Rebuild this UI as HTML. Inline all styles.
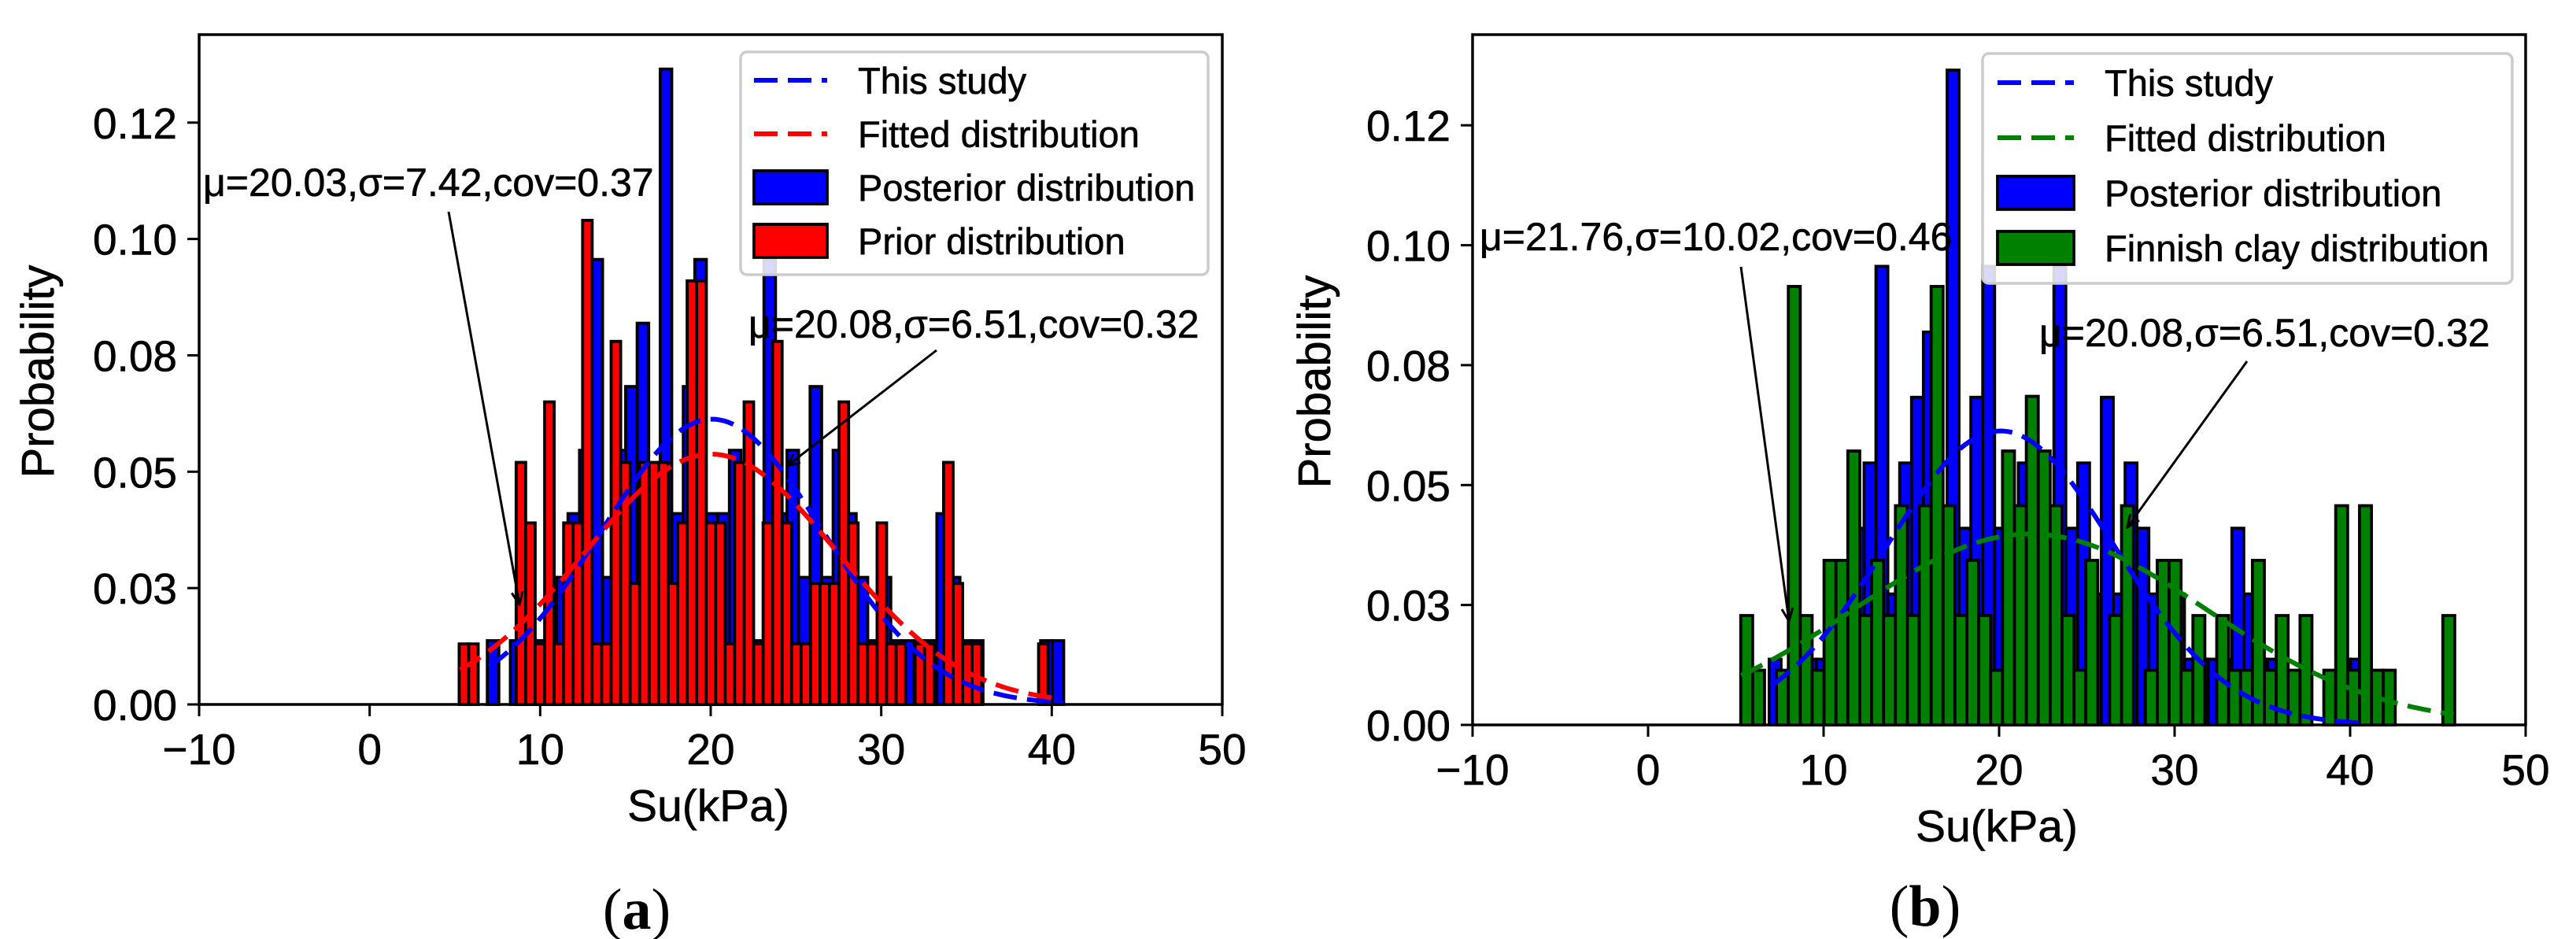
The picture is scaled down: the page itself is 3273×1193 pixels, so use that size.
<!DOCTYPE html>
<html><head><meta charset="utf-8">
<style>
html,body{margin:0;padding:0;background:#fff;}
svg{display:block;font-family:"Liberation Sans",Arial,sans-serif;}
svg text{stroke:#000;stroke-width:0.6px;}
</style></head>
<body>
<svg id="fig" width="3273" height="1193" viewBox="0 0 3273 1193" xmlns="http://www.w3.org/2000/svg">
<defs>
<marker id="ah" viewBox="0 0 20 20" refX="18" refY="10" markerWidth="20" markerHeight="20" markerUnits="userSpaceOnUse" orient="auto">
<path d="M2,3 L18,10 L2,17" fill="none" stroke="#000" stroke-width="3"/>
</marker>
</defs>
<g id="panelA"></g>
<g id="panelB"></g>
<text x="809" y="1180" text-anchor="middle" font-family="Liberation Serif,serif" font-size="74" style="stroke:none">(<tspan font-weight="bold">a</tspan>)</text>
<text x="2446" y="1176" text-anchor="middle" font-family="Liberation Serif,serif" font-size="74" style="stroke:none">(<tspan font-weight="bold">b</tspan>)</text>
</svg>
<script>
// ---- data ----
const xTicks = [-10, 0, 10, 20, 30, 40, 50];
const xTickLabels = ["\u221210", "0", "10", "20", "30", "40", "50"];
const yTicks = [0, 0.025, 0.05, 0.075, 0.1, 0.125];
const yTickLabels = ["0.00", "0.03", "0.05", "0.08", "0.10", "0.12"];

// posterior histogram (50 bins, start 6.9, width 0.676)
const posteriorStart = 6.9;
const posteriorWidth = 0.676;
const posteriorValues = [0.0137,0,0.0137,0.0137,0.0137,0.0273,0.0273,0.041,0.0546,0.0956,
 0.0273,0.0546,0.0683,0.0819,0.041,0.1365,0.041,0.0683,0.0956,0.041,
 0.041,0.0546,0.0273,0.0137,0.0956,0.041,0.0546,0.0273,0.0683,0.0273,
 0.0546,0.041,0.0273,0.0137,0.0273,0.0137,0.0137,0.0137,0.0137,0.041,
 0.0273,0.0137,0.0137,0,0,0,0,0,0.0137,0.0137];

// prior histogram (62 bins, start 5.25, width 0.557)
const priorStart = 5.25;
const priorWidth = 0.557;
const priorValues = [0.013,0.013,0,0,0,0,0.052,0.039,0.013,0.065,
 0.013,0.039,0.039,0.104,0.013,0.013,0.078,0.052,0.026,0.052,
 0.052,0.052,0.026,0.039,0.091,0.091,0.039,0.039,0.013,0.052,
 0.065,0.013,0.039,0.078,0.039,0.013,0.013,0.026,0.026,0.026,
 0.065,0.039,0.013,0.013,0.039,0.013,0.013,0,0.013,0.013,
 0,0.052,0.026,0.013,0.013,0,0,0,0,0,0,0.013];

// Finnish clay histogram (60 bins, start 5.28, width 0.678)
const finnishStart = 5.28;
const finnishWidth = 0.678;
const finnishValues = [0.0228,0.0114,0,0.0114,0.0914,0.0228,0.0114,0.0343,0.0343,0.0571,
 0.0228,0.0343,0.0228,0.0457,0.0228,0.0457,0.0914,0.0457,0.0228,0.0343,
 0.0228,0.0114,0.0571,0.0457,0.0685,0.0571,0.0457,0.0228,0.0114,0.0343,
 0,0.0228,0.0457,0,0.0114,0.0343,0.0343,0.0114,0.0228,0,
 0.0228,0.0114,0.0114,0.0343,0.0114,0.0228,0.0114,0.0228,0,0.0114,
 0.0457,0.0114,0.0457,0.0114,0.0114,0,0,0,0,0.0228];

// fitted normal curves: [mu, sigma, xmin, xmax]
const studyFit = [20.08, 6.51, 7.0, 40.7];
const priorFit = [20.03, 7.42, 5.3, 40.0];
const finnishFit = [21.76, 10.02, 5.3, 45.9];

const NS = "http://www.w3.org/2000/svg";
function mk(parent, tag, attrs, text) {
  const e = document.createElementNS(NS, tag);
  for (const k in attrs) e.setAttribute(k, attrs[k]);
  if (text !== undefined) e.textContent = text;
  parent.appendChild(e);
  return e;
}

function pdf(x, mu, s) { return Math.exp(-0.5 * ((x - mu) / s) ** 2) / (s * Math.sqrt(2 * Math.PI)); }

function drawPanel(g, P) {
  const X = v => P.left + (v + 10) / 60 * (P.right - P.left);
  const Y = v => P.bottom - v / 0.1439 * (P.bottom - P.top);

  P.hists.forEach(h => {
    const hg = mk(g, "g", {});
    
    
    h.values.forEach((v, i) => {
      if (v <= 0) return;
      const x0 = X(h.start + i * h.width), x1 = X(h.start + (i + 1) * h.width);
      const r = mk(hg, "rect", {x: x0, y: Y(v), width: x1 - x0, height: Y(0) - Y(v), fill: h.color, stroke: "#000", "stroke-width": 3.8});
      
      
    });
  });

  P.curves.forEach(c => {
    const [mu, s, a, b] = c.fit;
    let d = "";
    for (let k = 0; k <= 200; k++) {
      const x = a + (b - a) * k / 200;
      d += (k ? "L" : "M") + X(x).toFixed(1) + "," + Y(pdf(x, mu, s)).toFixed(1);
    }
    const p = mk(g, "path", {d: d, fill: "none", stroke: c.color, "stroke-width": 6, "stroke-dasharray": "30 13"});
    
    
  });

  const fr = mk(g, "rect", {x: P.left, y: P.top, width: P.right - P.left, height: P.bottom - P.top, fill: "none", stroke: "#000", "stroke-width": 3.5});
  
  

  xTicks.forEach((t, i) => {
    const x = X(t);
    mk(g, "line", {x1: x, x2: x, y1: P.bottom, y2: P.bottom + 15, stroke: "#000", "stroke-width": 3});
    const tx = mk(g, "text", {x: x, y: P.bottom + 76, "text-anchor": "middle", "font-size": 55}, xTickLabels[i]);
    
    
  });
  yTicks.forEach((t, i) => {
    const y = Y(t);
    mk(g, "line", {x1: P.left - 15, x2: P.left, y1: y, y2: y, stroke: "#000", "stroke-width": 3});
    const ty = mk(g, "text", {x: P.left - 28, y: y + 20, "text-anchor": "end", "font-size": 55}, yTickLabels[i]);
    
    
  });
  const xt = mk(g, "text", {x: (P.left + P.right) / 2 - 3, y: P.bottom + 148, "text-anchor": "middle", "font-size": 57}, "Su(kPa)");
  
  
  const yt = mk(g, "text", {x: 0, y: 0, "text-anchor": "middle", "font-size": 58, transform: `translate(${P.ytx},${P.yty}) rotate(-90)`}, "Probability");
  
  

  P.annots.forEach(a => {
    const t = mk(g, "text", {x: a.tx, y: a.ty, "font-size": 50}, a.text);
    
    
    const l = mk(g, "line", {x1: a.x1, y1: a.y1, x2: a.x2, y2: a.y2, stroke: "#000", "stroke-width": 3, "marker-end": "url(#ah)"});
    
    
  });

  const L = P.legend;
  const lg = mk(g, "g", {});
  
  
  mk(lg, "rect", {x: L.x, y: L.y, width: L.w, height: L.h, rx: 8, fill: "#fff", "fill-opacity": 0.85, stroke: "#ccc", "stroke-width": 3.5});
  L.items.forEach((it, i) => {
    const cy = L.y0 + i * L.dy;
    const eg = mk(lg, "g", {});
    
    
    if (it.type === "line") {
      mk(eg, "line", {x1: L.hx, x2: L.hx + L.hw, y1: cy, y2: cy, stroke: it.color, "stroke-width": 6, "stroke-dasharray": "30 13"});
    } else {
      mk(eg, "rect", {x: L.hx, y: cy - 21, width: L.hw, height: 42, fill: it.color, stroke: "#000", "stroke-width": 3.8});
    }
    mk(eg, "text", {x: L.tx, y: cy + 17, "font-size": 47}, it.label);
  });
}

drawPanel(document.getElementById("panelA"), {
  left: 253, right: 1553, top: 44, bottom: 895, ytx: 68, yty: 472,
  hists: [
    {name: "posterior-histogram", values: posteriorValues, start: posteriorStart, width: posteriorWidth, color: "#0000ff"},
    {name: "prior-histogram", values: priorValues, start: priorStart, width: priorWidth, color: "#ff0000"}
  ],
  curves: [
    {name: "this-study-curve", fit: studyFit, color: "#0000ff"},
    {name: "fitted-prior-curve", fit: priorFit, color: "#ff0000"}
  ],
  annots: [
    {text: "\u03bc=20.03,\u03c3=7.42,cov=0.37", tx: 258, ty: 249, x1: 570, y1: 269, x2: 660, y2: 768},
    {text: "\u03bc=20.08,\u03c3=6.51,cov=0.32", tx: 951, ty: 429, x1: 1190, y1: 445, x2: 1000, y2: 592}
  ],
  legend: {x: 941, y: 66, w: 594, h: 283, y0: 102, dy: 68, hx: 958, hw: 93, tx: 1090,
    items: [
      {type: "line", color: "#0000ff", label: "This study"},
      {type: "line", color: "#ff0000", label: "Fitted distribution"},
      {type: "patch", color: "#0000ff", label: "Posterior distribution"},
      {type: "patch", color: "#ff0000", label: "Prior distribution"}
    ]}
});

drawPanel(document.getElementById("panelB"), {
  left: 1871, right: 3209, top: 44, bottom: 921, ytx: 1690, yty: 485,
  hists: [
    {name: "posterior-histogram", values: posteriorValues, start: posteriorStart, width: posteriorWidth, color: "#0000ff"},
    {name: "finnish-clay-histogram", values: finnishValues, start: finnishStart, width: finnishWidth, color: "#008000"}
  ],
  curves: [
    {name: "this-study-curve", fit: studyFit, color: "#0000ff"},
    {name: "fitted-finnish-curve", fit: finnishFit, color: "#008000"}
  ],
  annots: [
    {text: "\u03bc=21.76,\u03c3=10.02,cov=0.46", tx: 1880, ty: 318, x1: 2212, y1: 339, x2: 2273, y2: 789},
    {text: "\u03bc=20.08,\u03c3=6.51,cov=0.32", tx: 2591, ty: 440, x1: 2855, y1: 459, x2: 2703, y2: 670}
  ],
  legend: {x: 2519, y: 68, w: 673, h: 292, y0: 105, dy: 70, hx: 2538, hw: 97, tx: 2674,
    items: [
      {type: "line", color: "#0000ff", label: "This study"},
      {type: "line", color: "#008000", label: "Fitted distribution"},
      {type: "patch", color: "#0000ff", label: "Posterior distribution"},
      {type: "patch", color: "#008000", label: "Finnish clay distribution"}
    ]}
});
</script>
</body></html>
